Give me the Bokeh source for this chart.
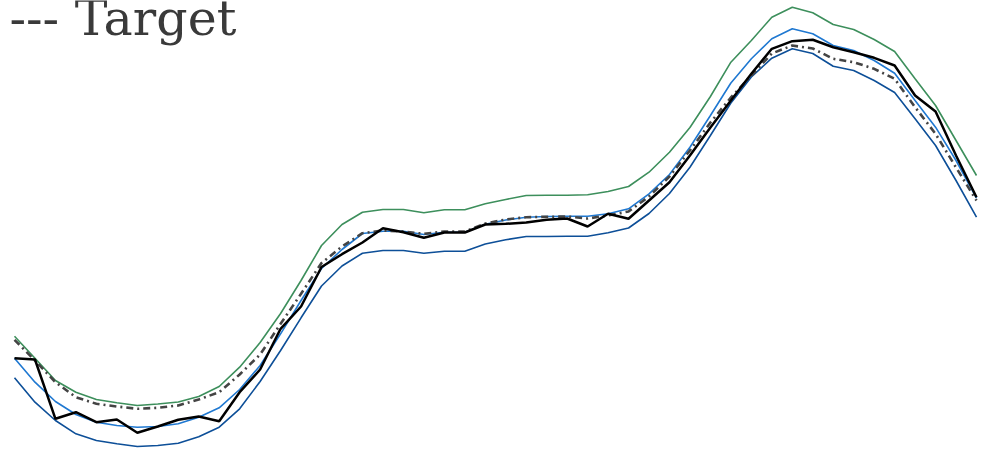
from bokeh.plotting import figure
from bokeh.models import Range1d, Label, ColumnDataSource
from bokeh.embed import file_html
from bokeh.resources import INLINE

# Half-hourly steps across the day
steps = list(range(48))

upper_band = [115.3, 93.3, 71.0, 59.3, 52.0, 48.7, 46.0, 47.5, 49.5, 55.0,
              65.0, 84.3, 109.0, 138.0, 171.0, 206.0, 227.0, 239.3, 242.0, 242.0,
              238.7, 241.7, 241.7, 247.7, 252.0, 256.0, 256.3, 256.3, 256.7, 260.0,
              265.0, 279.3, 299.3, 324.0, 355.0, 389.3, 411.0, 434.3, 444.3, 438.7,
              427.0, 422.0, 412.0, 400.0, 372.7, 346.0, 311.0, 276.0]

forecast = [93.3, 69.3, 50.0, 37.0, 29.3, 26.0, 24.3, 25.0, 27.7, 34.3,
            43.7, 62.0, 86.0, 117.7, 151.0, 183.0, 202.0, 218.0, 220.3, 220.3,
            217.0, 219.3, 219.3, 227.2, 231.5, 234.3, 235.0, 235.3, 235.3, 237.7,
            242.7, 257.7, 277.0, 304.3, 336.0, 368.5, 392.7, 412.7, 422.7, 417.7,
            406.0, 401.0, 391.0, 378.3, 351.0, 324.3, 291.0, 253.5]

lower_band = [73.7, 49.3, 31.0, 17.7, 11.0, 7.7, 5.0, 6.0, 8.3, 14.7,
              24.3, 42.7, 70.0, 101.0, 133.7, 165.5, 185.5, 198.3, 201.0, 201.0,
              198.3, 200.3, 200.3, 207.5, 211.7, 215.0, 215.0, 215.3, 215.3, 218.7,
              223.5, 238.0, 258.0, 284.3, 316.0, 348.5, 374.5, 393.3, 402.7, 398.0,
              385.3, 381.0, 371.0, 359.0, 332.7, 306.0, 271.0, 234.3]

target = [111.7, 91.0, 69.3, 54.3, 47.7, 45.0, 42.7, 43.7, 46.0, 52.0,
          59.3, 77.0, 97.0, 127.7, 157.7, 188.5, 205.0, 218.3, 221.0, 220.0,
          217.7, 220.0, 220.0, 228.0, 232.0, 234.3, 234.7, 235.0, 233.0, 236.0,
          240.0, 255.0, 275.0, 301.0, 329.0, 354.0, 376.0, 398.0, 406.0, 403.0,
          392.7, 389.3, 382.7, 372.7, 344.3, 317.7, 284.0, 251.0]

actual = [93.3, 92.0, 32.7, 39.3, 29.3, 32.0, 18.7, 25.0, 31.8, 35.0,
          30.3, 59.3, 82.0, 122.7, 145.0, 184.5, 197.3, 209.0, 223.3, 219.3,
          213.7, 219.0, 219.0, 227.0, 227.7, 229.0, 231.7, 233.0, 225.0, 237.7,
          232.7, 251.0, 269.3, 296.0, 324.0, 351.0, 377.7, 402.7, 410.3, 411.7,
          404.3, 399.3, 393.7, 386.0, 356.0, 340.0, 296.0, 254.3]

legend_label = "--- Target"

source = ColumnDataSource(dict(step=steps, upper=upper_band, mid=forecast,
                               lower=lower_band, target=target, actual=actual))

p = figure(width=992, height=451, output_backend="svg", toolbar_location=None,
           x_range=Range1d(-0.684, 47.782), y_range=Range1d(0, 451),
           min_border=0, min_border_left=0, min_border_right=0,
           min_border_top=0, min_border_bottom=0)
p.xaxis.visible = False
p.yaxis.visible = False
p.grid.visible = False
p.outline_line_color = None
p.background_fill_color = "white"
p.border_fill_color = "white"

p.line("step", "upper", source=source, line_color="#3d8f5c", line_width=1.6)
p.line("step", "lower", source=source, line_color="#0d4f98", line_width=1.6)
p.line("step", "mid", source=source, line_color="#1f78d1", line_width=1.6)
p.line("step", "target", source=source, line_color="#444444", line_width=2.6,
       line_dash="7 4 2 4")
p.line("step", "actual", source=source, line_color="#000000", line_width=2.5)

p.add_layout(Label(x=9, y=433, x_units="screen", y_units="screen",
                   text=legend_label, text_font="DejaVu Serif",
                   text_font_size="49px", text_color="#3a3a3a",
                   text_baseline="alphabetic", text_align="left"))

open("out.html", "w").write(file_html(p, INLINE))
